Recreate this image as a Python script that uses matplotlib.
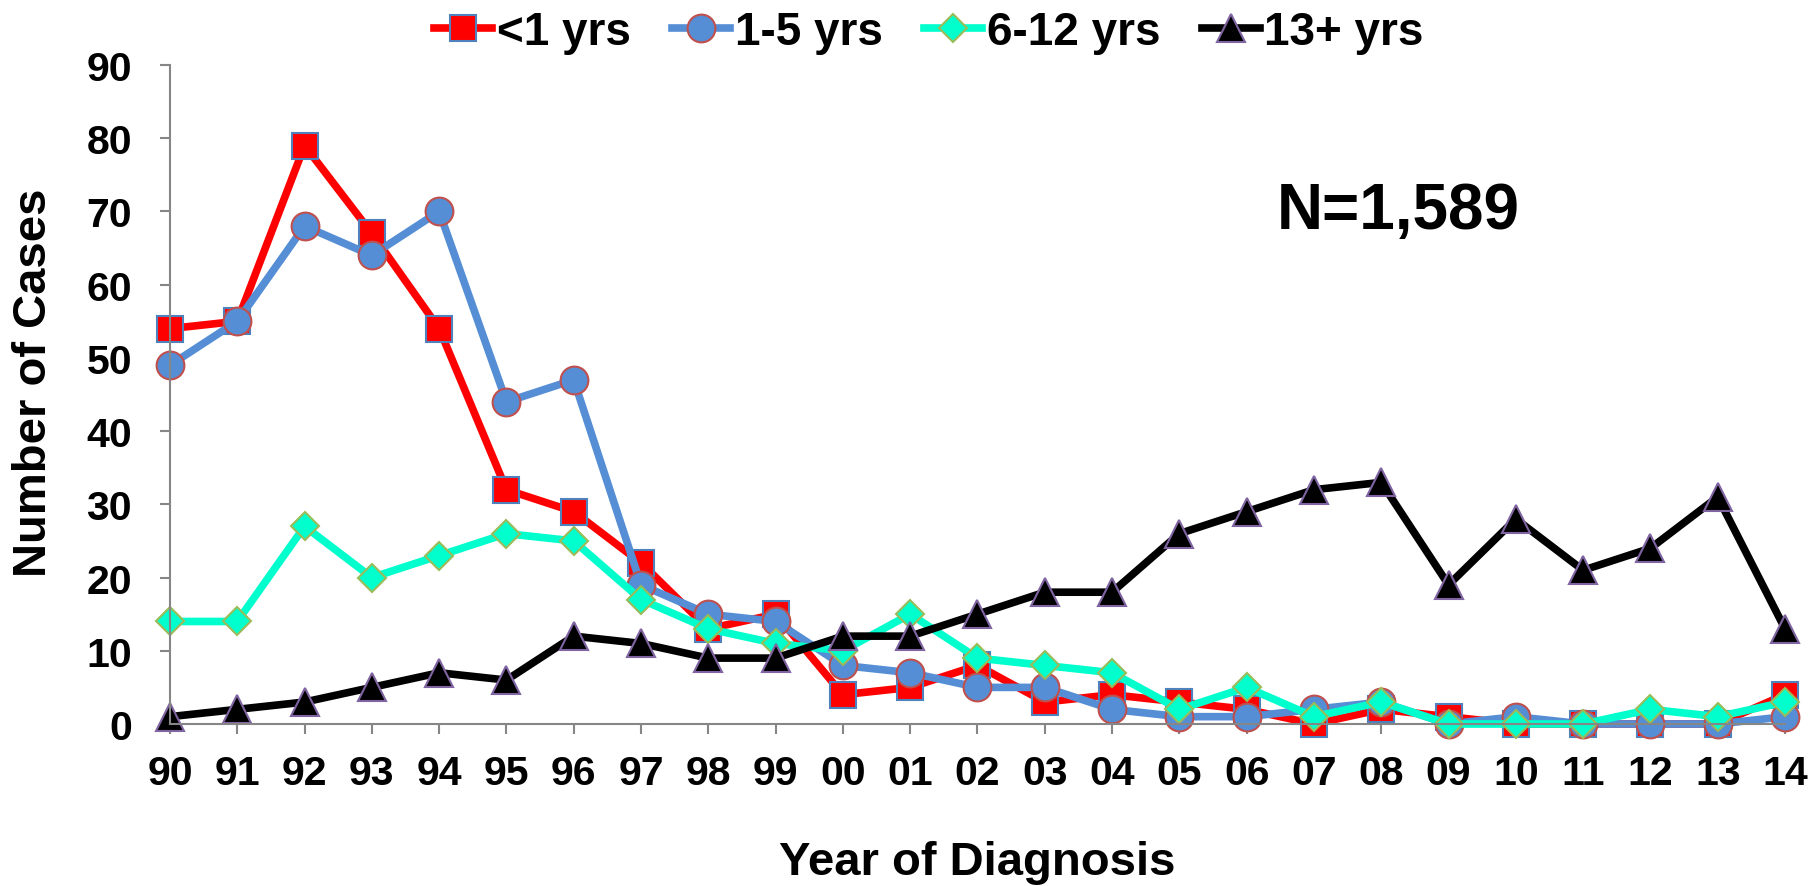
import matplotlib
matplotlib.use("Agg")
import matplotlib.pyplot as plt

plt.rcParams['font.family'] = ['Liberation Sans', 'DejaVu Sans']
plt.rcParams['font.weight'] = 'bold'

years = ['90', '91', '92', '93', '94', '95', '96', '97', '98', '99', '00', '01', '02',
         '03', '04', '05', '06', '07', '08', '09', '10', '11', '12', '13', '14']

under1 = [54, 55, 79, 67, 54, 32, 29, 22, 13, 15, 4, 5, 8, 3, 4, 3, 2, 0, 2, 1, 0, 0, 0, 0, 4]
age1_5 = [49, 55, 68, 64, 70, 44, 47, 19, 15, 14, 8, 7, 5, 5, 2, 1, 1, 2, 3, 0, 1, 0, 0, 0, 1]
age6_12 = [14, 14, 27, 20, 23, 26, 25, 17, 13, 11, 10, 15, 9, 8, 7, 2, 5, 1, 3, 0, 0, 0, 2, 1, 3]
age13p = [1, 2, 3, 5, 7, 6, 12, 11, 9, 9, 12, 12, 15, 18, 18, 26, 29, 32, 33, 19, 28, 21, 24, 31, 13]

x = list(range(len(years)))

fig = plt.figure(figsize=(18.16, 8.87), dpi=100)
ax = fig.add_axes([170/1816, 1-725/887, (1785-170)/1816, (725-66)/887])

lw = 5.5
ax.plot(x, under1, color='#FF0000', lw=lw, marker='s', ms=19, mfc='#FF0000',
        mec='#4F81BD', mew=1.5, label='<1 yrs', clip_on=False)
ax.plot(x, age1_5, color='#558ED5', lw=lw, marker='o', ms=20, mfc='#558ED5',
        mec='#C0504D', mew=1.5, label='1-5 yrs', clip_on=False)
ax.plot(x, age6_12, color='#00FFCC', lw=lw, marker='D', ms=14, mfc='#00FFCC',
        mec='#9BBB59', mew=1.5, label='6-12 yrs', clip_on=False)
ax.plot(x, age13p, color='#000000', lw=lw, marker='^', ms=19.5, mfc='#000000',
        mec='#8064A2', mew=1.5, label='13+ yrs', clip_on=False)

ax.set_xlim(0, len(years) - 1)
ax.set_ylim(0, 90)
ax.set_xticks(x)
ax.set_xticklabels(years)
ax.set_yticks(range(0, 91, 10))

for s in ['top', 'right']:
    ax.spines[s].set_visible(False)
for s in ['left', 'bottom']:
    ax.spines[s].set_color('#868686')
    ax.spines[s].set_linewidth(1.5)

ax.tick_params(axis='both', color='#868686', width=1.5, length=7.5, labelsize=29.5)
ax.tick_params(axis='y', pad=20)
ax.tick_params(axis='x', pad=14)
for lab in ax.get_xticklabels() + ax.get_yticklabels():
    lab.set_fontweight('bold')

fig.text(34/1816, 1-383/887, 'Number of Cases', rotation=90, ha='center', va='center',
         fontsize=34, fontweight='bold')
fig.text(977/1816, 1-875/887, 'Year of Diagnosis', ha='center', va='baseline',
         fontsize=34, fontweight='bold')
fig.text(1398/1816, 1-212/887, 'N=1,589', ha='center', va='center',
         fontsize=46, fontweight='bold')

fig.legend(loc='center', bbox_to_anchor=(929/1816, 1-33/887), ncol=4, frameon=False,
           handlelength=1.27, handletextpad=0.1, columnspacing=0.9,
           prop={'weight': 'bold', 'size': 33})

fig.savefig('out.png', dpi=100)
